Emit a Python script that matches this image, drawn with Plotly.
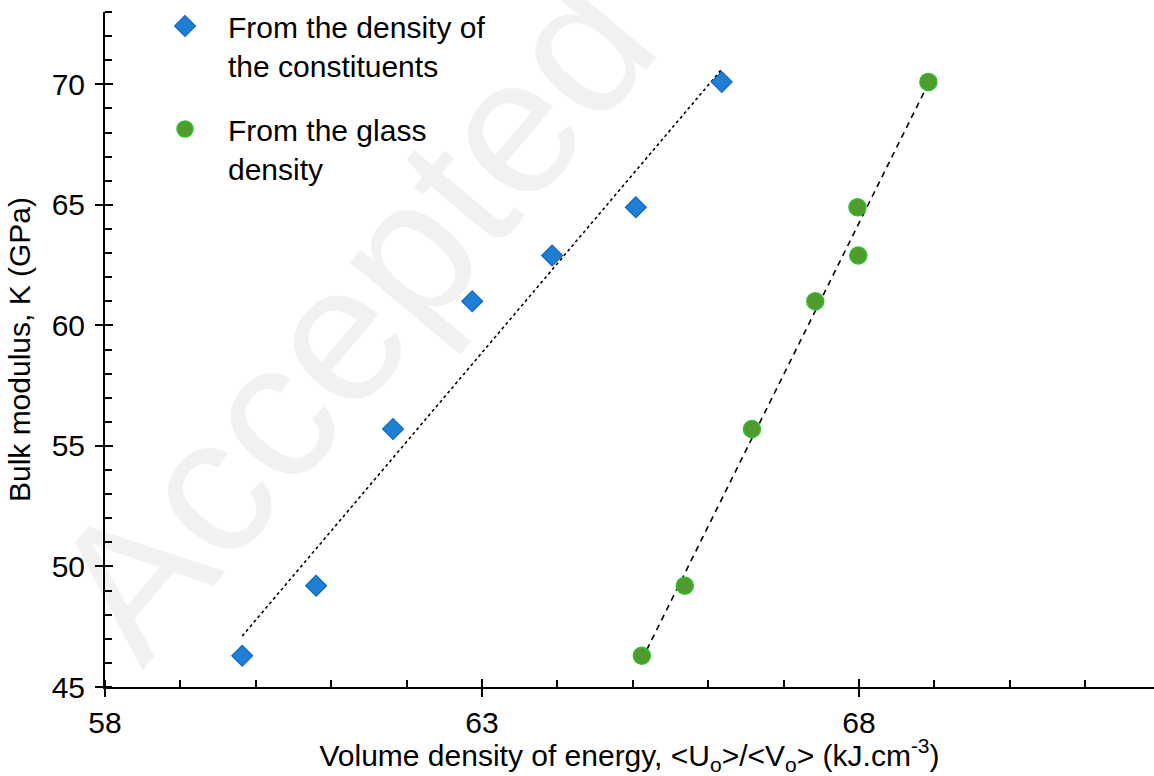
import numpy as np
import plotly.graph_objects as go

# ---- data ----
bulk_modulus = [46.3, 49.2, 55.7, 61.0, 62.9, 64.9, 70.1]
energy_constituents = [59.82, 60.80, 61.82, 62.87, 63.93, 65.04, 66.18]
energy_glass = [65.12, 65.69, 66.58, 67.42, 67.99, 67.98, 68.92]

name_const = "From the density of<br>the constituents"
name_glass = "From the glass<br>density"

x_tick_vals = [58, 63, 68]
y_tick_vals = [45, 50, 55, 60, 65, 70]

FONT = "Liberation Sans, Arial, sans-serif"
FS = 30


def trend(xs, ys):
    a, b = np.polyfit(xs, ys, 1)
    xe = np.array([min(xs), max(xs)])
    return xe, a * xe + b


fig = go.Figure()

tx, ty = trend(energy_constituents, bulk_modulus)
fig.add_trace(go.Scatter(x=tx, y=ty, mode="lines", showlegend=False,
                         line=dict(color="black", width=1.6, dash="dot"),
                         hoverinfo="skip"))
gx, gy = trend(energy_glass, bulk_modulus)
fig.add_trace(go.Scatter(x=gx, y=gy, mode="lines", showlegend=False,
                         line=dict(color="black", width=1.6, dash="6px,5px"),
                         hoverinfo="skip"))

fig.add_trace(go.Scatter(
    x=energy_constituents, y=bulk_modulus, mode="markers", name=name_const,
    legendgroup="a",
    marker=dict(symbol="diamond", size=16, color="#1f80d3",
                line=dict(color="#0f64c8", width=1.2))))
fig.add_trace(go.Scatter(
    x=energy_glass, y=bulk_modulus, mode="markers", name=name_glass,
    legendgroup="b",
    marker=dict(symbol="circle", size=17, color="#519a2d",
                line=dict(color="#2fbe2f", width=1.5))))

# helper trace for overlay axes (crossing major ticks)
fig.add_trace(go.Scatter(x=[None], y=[None], xaxis="x2", yaxis="y2",
                         showlegend=False, hoverinfo="skip"))

x_range = [58, 58 + (1154 - 105) / 75.4]
y_range = [45, 73]

axis_common = dict(showgrid=False, zeroline=False, showline=True,
                   linecolor="black", linewidth=2, ticks="outside",
                   ticklen=8, tickwidth=2, tickcolor="black",
                   tickfont=dict(family=FONT, size=FS, color="black"))

fig.update_layout(
    width=1154, height=776,
    margin=dict(l=105, r=0, t=12, b=89, autoexpand=False),
    paper_bgcolor="white", plot_bgcolor="white",
    font=dict(family=FONT, size=FS, color="black"),
    xaxis=dict(range=x_range, tickvals=x_tick_vals,
               minor=dict(dtick=1, tick0=58, ticks="inside", ticklen=7,
                          tickwidth=2, tickcolor="black"),
               title=dict(text="Volume density of energy, &lt;U<sub>o</sub>&gt;/&lt;V<sub>o</sub>&gt; (kJ.cm<sup>-3</sup>)",
                          font=dict(family=FONT, size=FS, color="black"),
                          standoff=4),
               **axis_common),
    yaxis=dict(range=y_range, tickvals=y_tick_vals,
               minor=dict(dtick=1, tick0=45, ticks="inside", ticklen=7,
                          tickwidth=2, tickcolor="black"),
               title=dict(text="Bulk modulus, K (GPa)",
                          font=dict(family=FONT, size=FS, color="black"),
                          standoff=12),
               ticklabelstandoff=4,
               **axis_common),
    xaxis2=dict(overlaying="x", range=x_range, tickvals=x_tick_vals,
                ticks="inside", ticklen=8, tickwidth=2, tickcolor="black",
                showticklabels=False, showline=False, showgrid=False,
                zeroline=False, side="bottom", anchor="y2"),
    yaxis2=dict(overlaying="y", range=y_range, tickvals=y_tick_vals,
                ticks="inside", ticklen=8, tickwidth=2, tickcolor="black",
                showticklabels=False, showline=False, showgrid=False,
                zeroline=False, side="left", anchor="x2"),
    legend=dict(x=(142 - 105) / 1049, y=1 + 12 / 675, xanchor="left",
                yanchor="top", bgcolor="rgba(0,0,0,0)", valign="top",
                font=dict(family=FONT, size=FS, color="black"),
                tracegroupgap=22, itemwidth=76),
    annotations=[dict(
        text="Accepted Manuscript", xref="paper", yref="paper",
        x=(675 - 105) / 1049, y=(687 + 70) / 675, xanchor="center",
        yanchor="middle", textangle=-50, showarrow=False,
        font=dict(family=FONT, size=195, color="rgba(0,0,0,0.055)"))],
)

fig.write_html("out.html")
